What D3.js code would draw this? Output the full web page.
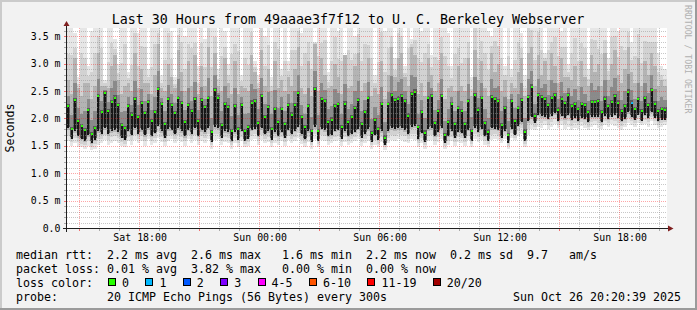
<!DOCTYPE html>
<html>
<head>
<meta charset="utf-8">
<script src="https://cdn.jsdelivr.net/npm/d3@7"></script>
<style>
  body { margin: 0; background: #f2f2f2; }
  svg { display: block; }
  text { font-family: "DejaVu Sans Mono", monospace; }
</style>
</head>
<body>
<svg id="chart" width="697" height="310"></svg>
<script>
// 10 minute samples, Sat 14:20:39 -> Sun 20:20:39 (ms)
const startTime = new Date(2025, 9, 25, 14, 20, 39);
const endTime = new Date(2025, 9, 26, 20, 20, 39);
const stepMinutes = 10;

const median = [
  2.23,1.80,2.34,1.95,1.86,1.78,2.15,1.72,1.82,2.41,
  2.12,2.46,2.14,2.30,2.38,2.25,1.88,1.82,2.23,2.07,
  2.35,2.03,2.28,2.10,2.30,1.95,2.12,2.54,2.26,1.90,
  2.35,2.25,2.10,2.37,2.28,1.93,2.24,2.13,2.35,1.95,
  2.33,2.20,2.37,1.75,2.52,2.38,1.88,2.26,2.20,1.77,
  2.22,1.81,2.25,1.77,1.84,2.29,2.32,1.92,2.40,2.03,
  2.20,1.81,2.17,1.94,2.17,1.90,2.25,2.07,2.24,2.46,
  2.03,1.84,2.22,1.77,2.53,1.77,2.35,2.32,1.93,1.98,
  2.22,2.26,1.84,2.27,1.93,2.03,2.19,2.34,1.90,2.12,
  2.37,1.73,1.97,1.81,2.26,1.65,2.26,2.43,2.34,2.36,
  2.41,2.32,2.05,2.44,2.49,1.84,2.12,1.74,2.37,2.40,
  1.92,2.14,2.40,1.70,1.93,2.26,1.90,2.19,2.14,1.90,
  2.31,1.77,2.43,2.16,2.37,1.92,1.76,2.39,2.35,2.32,
  1.88,2.19,1.70,2.31,1.95,2.19,2.33,1.76,2.39,2.58,
  2.05,2.43,2.39,2.35,2.25,2.37,2.43,2.16,2.36,2.28,
  2.43,2.23,2.26,2.17,2.26,2.24,2.12,2.30,2.30,2.31,
  2.12,2.36,2.23,2.30,2.40,2.29,2.14,2.22,2.49,2.29,
  2.17,2.35,2.14,2.37,2.25,2.52,2.27,2.14,2.17,2.16
];

const lowest = [
  1.58,1.50,1.55,1.48,1.47,1.44,1.50,1.42,1.45,1.52,
  1.55,1.60,1.52,1.56,1.58,1.55,1.50,1.47,1.58,1.52,
  1.60,1.55,1.58,1.50,1.62,1.52,1.55,1.65,1.57,1.50,
  1.58,1.62,1.55,1.60,1.57,1.50,1.62,1.55,1.60,1.52,
  1.58,1.55,1.62,1.45,1.60,1.63,1.52,1.57,1.55,1.45,
  1.55,1.48,1.58,1.47,1.50,1.60,1.62,1.52,1.60,1.55,
  1.57,1.48,1.55,1.52,1.58,1.50,1.60,1.55,1.58,1.65,
  1.53,1.48,1.57,1.45,1.62,1.47,1.60,1.58,1.52,1.55,
  1.58,1.60,1.50,1.57,1.52,1.55,1.58,1.62,1.50,1.55,
  1.58,1.45,1.52,1.47,1.57,1.42,1.55,1.60,1.58,1.62,
  1.60,1.57,1.55,1.62,1.60,1.48,1.55,1.45,1.58,1.60,
  1.52,1.57,1.62,1.45,1.52,1.58,1.50,1.57,1.55,1.50,
  1.60,1.47,1.62,1.57,1.60,1.52,1.47,1.60,1.62,1.60,
  1.55,1.62,1.45,1.65,1.60,1.68,1.72,1.48,1.70,1.80,
  1.78,1.85,1.82,1.88,1.80,1.85,1.90,1.82,1.88,1.80,
  1.85,1.78,1.83,1.80,1.86,1.82,1.78,1.85,1.88,1.82,
  1.80,1.88,1.85,1.90,1.86,1.82,1.78,1.85,1.92,1.88,
  1.85,1.92,1.88,1.90,1.85,1.95,1.88,1.82,1.85,1.88
];

const lowerQ = [
  1.85,1.66,1.80,1.70,1.65,1.62,1.72,1.58,1.64,1.80,
  1.75,1.85,1.74,1.80,1.82,1.78,1.68,1.64,1.80,1.72,
  1.85,1.75,1.82,1.72,1.85,1.70,1.76,1.90,1.80,1.68,
  1.84,1.82,1.74,1.86,1.80,1.70,1.82,1.75,1.85,1.70,
  1.82,1.78,1.86,1.60,1.88,1.85,1.68,1.80,1.78,1.62,
  1.78,1.64,1.80,1.62,1.66,1.82,1.84,1.70,1.85,1.74,
  1.80,1.64,1.78,1.70,1.78,1.68,1.82,1.74,1.80,1.88,
  1.74,1.65,1.80,1.60,1.88,1.62,1.84,1.82,1.70,1.72,
  1.80,1.82,1.66,1.80,1.70,1.74,1.78,1.84,1.68,1.75,
  1.84,1.60,1.72,1.64,1.80,1.55,1.80,1.86,1.84,1.85,
  1.86,1.82,1.74,1.88,1.90,1.66,1.76,1.60,1.84,1.86,
  1.70,1.78,1.86,1.58,1.70,1.80,1.68,1.78,1.76,1.68,
  1.82,1.62,1.86,1.78,1.84,1.70,1.62,1.85,1.84,1.82,
  1.68,1.80,1.58,1.84,1.72,1.90,1.96,1.62,1.98,2.05,
  1.95,2.10,2.08,2.06,2.02,2.08,2.12,1.98,2.08,2.04,
  2.10,2.00,2.04,1.98,2.04,2.02,1.96,2.06,2.06,2.06,
  1.96,2.08,2.02,2.06,2.10,2.04,1.98,2.02,2.14,2.06,
  2.00,2.10,1.98,2.10,2.04,2.14,2.04,1.98,2.00,2.00
];

const upperQ = [
  2.70,2.45,3.10,2.55,2.40,2.65,2.65,2.35,2.60,3.20,
  2.60,2.60,2.55,2.95,3.15,2.70,2.45,2.60,2.65,2.50,
  3.20,2.55,2.90,2.65,2.65,2.45,2.80,3.35,2.55,2.50,
  3.00,2.75,2.55,3.25,2.85,2.50,3.05,2.60,3.15,2.45,
  2.95,2.60,3.30,2.40,3.20,2.60,2.50,3.10,2.65,2.45,
  3.05,2.45,2.60,2.55,2.50,3.15,2.85,2.55,3.25,2.60,
  2.90,2.50,3.05,2.55,2.70,2.50,2.75,2.60,2.90,3.30,
  2.55,2.45,3.05,2.40,3.35,2.50,3.10,2.80,2.55,2.60,
  3.00,2.75,2.45,3.15,2.55,2.60,2.95,3.20,2.50,2.65,
  3.10,2.40,2.55,2.45,3.05,2.35,2.80,3.30,2.75,3.10,
  3.20,2.75,2.60,3.30,3.15,2.45,2.65,2.40,3.10,2.80,
  2.50,2.65,3.20,2.35,2.55,2.60,2.50,2.95,2.60,2.50,
  3.10,2.40,3.25,2.70,3.05,2.55,2.40,3.20,2.85,3.00,
  2.50,2.70,2.35,2.65,2.55,2.85,3.10,2.40,3.20,3.30,
  2.60,3.15,2.80,3.05,2.70,3.20,2.95,2.65,3.10,2.75,
  2.75,2.70,2.95,2.60,3.05,2.75,2.60,3.15,2.85,3.00,
  2.60,3.20,2.70,3.00,3.25,2.80,2.65,2.90,3.30,2.85,
  2.65,3.10,2.60,3.05,2.80,3.20,2.95,2.60,2.70,2.60
];

const highest = [
  3.90,4.20,3.55,2.75,4.40,3.80,2.95,3.60,4.10,3.95,
  4.30,2.70,3.75,4.00,3.45,3.00,3.85,4.50,2.85,3.70,
  4.10,3.55,3.95,4.30,2.90,3.65,4.20,3.85,2.80,3.90,
  4.40,3.60,2.75,3.95,4.20,3.50,3.80,4.30,3.70,2.95,
  4.00,3.45,4.35,3.75,3.90,2.90,4.10,3.60,3.00,4.25,
  3.80,4.40,2.80,3.95,3.70,4.20,3.05,2.80,4.30,3.50,
  4.00,2.75,3.90,4.35,2.90,3.85,3.05,4.20,3.75,4.05,
  3.55,4.30,3.90,3.65,3.40,4.10,3.80,4.40,2.85,3.70,
  4.20,3.60,3.95,3.15,4.30,3.75,3.50,4.05,3.85,4.40,
  3.70,4.15,2.80,3.90,4.35,3.60,4.00,3.80,3.10,4.25,
  3.95,2.95,4.30,3.45,3.85,4.10,3.60,4.40,3.75,3.15,
  4.05,3.70,3.90,4.30,3.55,2.95,4.20,3.80,3.65,4.00,
  3.85,2.75,4.40,3.70,3.95,4.15,3.60,3.50,4.25,3.80,
  4.00,2.95,4.30,2.90,3.85,4.20,3.55,2.80,4.35,4.10,
  3.75,4.20,3.90,3.20,4.05,3.70,4.30,3.85,3.60,4.15,
  3.00,3.95,4.25,3.70,3.85,4.10,2.90,3.90,4.30,3.65,
  4.05,3.80,3.10,4.20,3.90,3.60,4.35,3.75,4.00,3.40,
  3.85,4.20,3.65,3.95,4.30,3.70,4.05,3.20,2.95,2.90
];

// [sample index, lost pings]
const lossSamples = [[169, 1]];

const lossLabels = ['0', '1', '2', '3', '4-5', '6-10', '11-19', '20/20'];
const lossColors = ['#26ff00', '#00b8ff', '#0059ff', '#7e00ff', '#ff00ff', '#ff5500', '#ff0000', '#a10000'];

const title = 'Last 30 Hours from 49aaae3f7f12 to U. C. Berkeley Webserver';
const legendRows = [
  'median rtt:  2.2 ms avg  2.6 ms max   1.6 ms min  2.2 ms now  0.2 ms sd  9.7   am/s',
  'packet loss: 0.01 % avg  3.82 % max   0.00 % min  0.00 % now',
  'loss color:',
  'probe:       20 ICMP Echo Pings (56 Bytes) every 300s'
];
const stamp = 'Sun Oct 26 20:20:39 2025';

const W = 697, H = 310;
const plot = { left: 66.5, right: 666.5, top: 28, bottom: 228 };
const mono = '"DejaVu Sans Mono", monospace';

const svg = d3.select('#chart');

const x = d3.scaleTime().domain([startTime, endTime]).range([plot.left, plot.right]);
const y = d3.scaleLinear().domain([0, 3.65]).range([plot.bottom, plot.top]);

// background + bevel
svg.append('rect').attr('width', W).attr('height', H).attr('fill', '#f2f2f2');
svg.append('rect').attr('x', 0).attr('y', 0).attr('width', W).attr('height', 2).attr('fill', '#cbcbcb');
svg.append('rect').attr('x', 0).attr('y', 0).attr('width', 2).attr('height', H).attr('fill', '#cbcbcb');
svg.append('rect').attr('x', 0).attr('y', H - 2).attr('width', W).attr('height', 2).attr('fill', '#9b9b9b');
svg.append('rect').attr('x', W - 2).attr('y', 0).attr('width', 2).attr('height', H).attr('fill', '#9b9b9b');

// canvas
svg.append('rect')
  .attr('x', 67).attr('y', plot.top)
  .attr('width', 600).attr('height', plot.bottom - plot.top)
  .attr('fill', '#fff');

svg.append('clipPath').attr('id', 'clip')
  .append('rect').attr('x', 67).attr('y', plot.top)
  .attr('width', 600).attr('height', plot.bottom - plot.top);

const lossIndex = n => n === 0 ? 0 : n <= 3 ? n : n <= 5 ? 4 : n <= 10 ? 5 : n < 20 ? 6 : 7;

const samples = median.map((m, i) => ({
  t0: d3.timeMinute.offset(startTime, i * stepMinutes),
  t1: d3.timeMinute.offset(startTime, (i + 1) * stepMinutes),
  med: m, lo: lowest[i], q1: lowerQ[i], q3: upperQ[i], hi: highest[i], loss: 0
}));
lossSamples.forEach(([i, n]) => { samples[i].loss = n; });

// smoke, outer bands lighter; narrow = dark core stroke
const tiers = [
  { fill: '#e6e6e6', a: d => d.lo, b: d => d.hi },
  { fill: '#d2d2d2', a: d => d.lo + (d.q1 - d.lo) * 0.4, b: d => d.q3 + (d.hi - d.q3) * 0.4 },
  { fill: '#b4b4b4', a: d => d.lo + (d.q1 - d.lo) * 0.75, b: d => d.q3 },
  { fill: '#8a8a8a', a: d => d.q1, b: d => d.med + (d.q3 - d.med) * 0.4 },
  { fill: '#5a5a5a', a: d => d.q1, b: d => d.med + 0.04 },
  { fill: '#161616', a: d => d.q1 - 0.03, b: d => d.med, narrow: true }
];

const smoke = svg.append('g').attr('clip-path', 'url(#clip)').attr('shape-rendering', 'crispEdges');
tiers.forEach(t => {
  smoke.append('g').attr('fill', t.fill)
    .selectAll('rect').data(samples).join('rect')
    .attr('x', d => t.narrow ? (x(d.t0) + x(d.t1)) / 2 - 1 : x(d.t0))
    .attr('width', d => t.narrow ? 2 : x(d.t1) - x(d.t0))
    .attr('y', d => y(t.b(d)))
    .attr('height', d => Math.max(0, y(t.a(d)) - y(t.b(d))));
});

// median
smoke.append('g').selectAll('rect').data(samples).join('rect')
  .attr('x', d => (x(d.t0) + x(d.t1)) / 2 - 1)
  .attr('y', d => y(d.med) - 1)
  .attr('width', 2).attr('height', 2)
  .attr('fill', d => lossColors[lossIndex(d.loss)]);

// grid
const grid = svg.append('g').attr('fill', 'none').attr('stroke-dasharray', '1,1');
const minorY = y.ticks(36).filter(v => v > 0 && Math.round(v * 10) % 5 !== 0);
const majorY = y.ticks(7).filter(v => v > 0);
const minorX = x.ticks(d3.timeHour.every(1)).filter(t => t.getHours() % 3 !== 0);
const majorX = x.ticks(d3.timeHour.every(3));

const hLine = v => `M67,${Math.round(y(v)) + 0.5}H667`;
const vLine = t => `M${Math.floor(x(t)) + 0.5},${plot.top}V${plot.bottom}`;

grid.selectAll('.gy').data(minorY).join('path').attr('d', hLine).attr('stroke', 'rgba(143,143,143,0.5)');
grid.selectAll('.gx').data(minorX).join('path').attr('d', vLine).attr('stroke', 'rgba(143,143,143,0.5)');
grid.selectAll('.my').data(majorY).join('path').attr('d', hLine).attr('stroke', 'rgba(249,32,32,0.4)');
grid.selectAll('.mx').data(majorX).join('path').attr('d', vLine).attr('stroke', 'rgba(249,32,32,0.4)');

// small ticks on the axes
const ticks = svg.append('g').attr('shape-rendering', 'crispEdges');
ticks.selectAll('.ty').data(minorY.concat(majorY)).join('path')
  .attr('d', v => `M64,${Math.round(y(v)) + 0.5}H66`)
  .attr('stroke', v => Math.round(v * 10) % 5 === 0 ? '#f07070' : '#aaa');
ticks.selectAll('.tx').data(minorX.concat(majorX)).join('path')
  .attr('d', t => `M${Math.floor(x(t)) + 0.5},229V231`)
  .attr('stroke', t => t.getHours() % 3 === 0 ? '#f07070' : '#aaa');

// axis lines and arrows
svg.append('path').attr('d', 'M63,228.5H669').attr('stroke', '#1f1f1f').attr('shape-rendering', 'crispEdges');
svg.append('path').attr('d', 'M66.5,232V25').attr('stroke', '#1f1f1f').attr('shape-rendering', 'crispEdges');
svg.append('path').attr('d', 'M668,225.5L673.5,228.5L668,231.5Z').attr('fill', '#7f1f1f');
svg.append('path').attr('d', 'M63.5,26L66.5,21L69.5,26Z').attr('fill', '#7f1f1f');

// axis labels
const xAxis = d3.axisBottom(x)
  .ticks(d3.timeHour.every(6))
  .tickFormat(d3.timeFormat('%a %H:%M'))
  .tickSize(0).tickPadding(6);
svg.append('g').attr('transform', `translate(0,${plot.bottom})`).call(xAxis)
  .call(g => g.select('.domain').remove())
  .attr('font-family', mono).attr('font-size', 9.9);

const yAxis = d3.axisLeft(y)
  .tickValues(y.ticks(7))
  .tickFormat(v => v === 0 ? '0.0' : d3.format('.1f')(v) + ' m')
  .tickSize(0).tickPadding(6);
svg.append('g').attr('transform', 'translate(66.5,0)').call(yAxis)
  .call(g => g.select('.domain').remove())
  .attr('font-family', mono).attr('font-size', 9.9);

svg.append('text')
  .attr('transform', 'translate(14,128) rotate(-90)')
  .attr('text-anchor', 'middle').attr('font-size', 11.6)
  .text('Seconds');

svg.append('text')
  .attr('x', 348).attr('y', 24)
  .attr('text-anchor', 'middle').attr('font-size', 13.3)
  .text(title);

svg.append('text')
  .attr('transform', 'translate(685,5) rotate(90)')
  .attr('font-size', 8.2).attr('fill', '#b0b0b0')
  .text('RRDTOOL / TOBI OETIKER');

// legend
const rowBase = [258.5, 272.5, 287, 301];
svg.append('g').attr('font-size', 11.63)
  .selectAll('text').data(legendRows).join('text')
  .attr('x', 16).attr('y', (d, i) => rowBase[i])
  .attr('xml:space', 'preserve').style('white-space', 'pre')
  .text(d => d);

svg.append('text')
  .attr('x', 681).attr('y', rowBase[3])
  .attr('text-anchor', 'end').attr('font-size', 11.63)
  .text(stamp);

let bx = 108;
const boxes = lossLabels.map(l => { const p = bx; bx += 30.4 + 7 * l.length; return { l, p }; });
const lg = svg.append('g');
lg.selectAll('rect').data(boxes).join('rect')
  .attr('x', d => Math.round(d.p) + 0.5).attr('y', 278.5)
  .attr('width', 7).attr('height', 7)
  .attr('fill', (d, i) => lossColors[i]).attr('stroke', '#000')
  .attr('shape-rendering', 'crispEdges');
lg.selectAll('text').data(boxes).join('text')
  .attr('x', d => d.p + 14).attr('y', rowBase[2])
  .attr('font-size', 11.63)
  .text(d => d.l);
</script>
</body>
</html>
